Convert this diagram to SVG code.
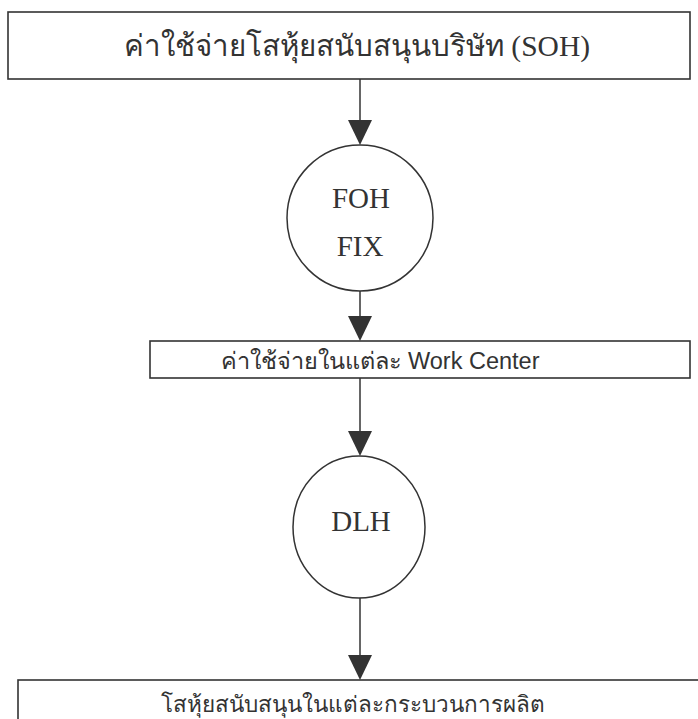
<svg xmlns="http://www.w3.org/2000/svg" width="698" height="719" viewBox="0 0 698 719">
<style>
.box{fill:#fff;stroke:#333;stroke-width:1.6}
.circ{fill:#fff;stroke:#333;stroke-width:1.5}
.con{stroke:#333;stroke-width:1.5;fill:none}
.head{fill:#333}
.serif{font-family:"Liberation Serif","DejaVu Serif",serif;fill:#333}
.sans{font-family:"Liberation Sans","DejaVu Sans",sans-serif;fill:#333}
</style>
<rect width="698" height="719" fill="#fff"/>
<g id="connectors">
<line class="con" x1="360" y1="79" x2="360" y2="120"/>
<path class="head" d="M348,120 L372,120 L360,145 Z"/>
<line class="con" x1="360" y1="291" x2="360" y2="316"/>
<path class="head" d="M348,316 L372,316 L360,341 Z"/>
<line class="con" x1="360" y1="378" x2="360" y2="431"/>
<path class="head" d="M348,431 L372,431 L360,456 Z"/>
<line class="con" x1="360" y1="598" x2="360" y2="655"/>
<path class="head" d="M348,655 L372,655 L360,680 Z"/>
</g>
<g id="soh">
<rect class="box" x="8" y="12" width="682" height="67"/>
<text class="serif" x="357" y="56" font-size="29.5" text-anchor="middle">ค่าใช้จ่ายโสหุ้ยสนับสนุนบริษัท (SOH)</text>
</g>
<g id="foh">
<circle class="circ" cx="360" cy="218" r="73"/>
<text class="serif" x="361" y="208" font-size="29" text-anchor="middle">FOH</text>
<text class="serif" x="360" y="256" font-size="29" text-anchor="middle">FIX</text>
</g>
<g id="workcenter">
<rect class="box" x="150" y="341" width="540" height="37"/>
<text class="sans" x="380" y="369" font-size="23.5" text-anchor="middle">ค่าใช้จ่ายในแต่ละ Work Center</text>
</g>
<g id="dlh">
<ellipse class="circ" cx="359" cy="527" rx="66" ry="71"/>
<text class="serif" x="361" y="531" font-size="29" text-anchor="middle">DLH</text>
</g>
<g id="process">
<rect class="box" x="18" y="680" width="690" height="60"/>
<text class="sans" x="353" y="712" font-size="22.5" text-anchor="middle">โสหุ้ยสนับสนุนในแต่ละกระบวนการผลิต</text>
</g>
</svg>
